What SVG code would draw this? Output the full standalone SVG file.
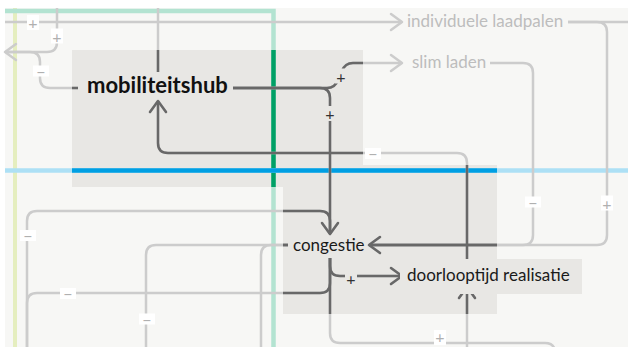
<svg xmlns="http://www.w3.org/2000/svg" width="628" height="347" viewBox="0 0 628 347">
<style>
.bg{fill:#f7f7f5}
.box{fill:#e8e7e4}
.lbl{font-family:Lato,"Noto Sans",sans-serif;font-size:17px;fill:#1a1a1a}
.lbl-light{fill:#bdbdbd}
.hub{font-weight:700;font-size:22px;fill:#111}
.sbg{fill:#ffffff}
.sbg-d{fill:#e8e7e4}
.s{font-family:Lato,"Noto Sans",sans-serif;font-size:16px;text-anchor:middle;dominant-baseline:central;fill:#b0b0b0}
.s-d{fill:#333333}
</style>
<defs>
<marker id="aL" markerUnits="userSpaceOnUse" markerWidth="16" markerHeight="22" viewBox="-13 -11 16 22" refX="0" refY="0" orient="auto"><path d="M-11,-8 L0,0 L-11,8" fill="none" stroke="#cccccc" stroke-width="2.5" stroke-linejoin="round" stroke-linecap="round"/></marker>
<marker id="aD" markerUnits="userSpaceOnUse" markerWidth="16" markerHeight="22" viewBox="-13 -11 16 22" refX="0" refY="0" orient="auto"><path d="M-11,-8 L0,0 L-11,8" fill="none" stroke="#686868" stroke-width="2.5" stroke-linejoin="round" stroke-linecap="round"/></marker>
<clipPath id="focus"><rect x="72" y="50" width="291" height="137"/><rect x="283" y="165" width="214" height="149"/><rect x="400" y="259" width="182" height="35"/></clipPath>
</defs>
<rect class="bg" x="5" y="8" width="623" height="339"/>
<g id="focus-areas">
<rect class="box" x="72" y="50" width="291" height="137"/>
<rect class="box" x="283" y="165" width="214" height="149"/>
</g>
<g id="lanes" fill="none">
<path d="M15 8V347" stroke="#e5eebf" stroke-width="4"/>
<path d="M5 11H273.5V347" stroke="#b3e3d1" stroke-width="4.5"/>
<path d="M273.5 50V187" stroke="#00a066" stroke-width="4.5"/>
<path d="M5 170.5H628" stroke="#ade0f5" stroke-width="4.5"/>
<path d="M72 170.5H497" stroke="#009fe3" stroke-width="4.5"/>
</g>
<g id="connectors" stroke="#cccccc">
<g id="conn-plain" fill="none" stroke-width="2.5" stroke-linejoin="round">
<path d="M158 8V72"/>
<path d="M57 8V42Q57 52 47 52H6"/>
<path d="M568 22H628"/>
<path d="M490 63H523Q533 63 533 73V235Q533 245 523 245H370"/>
<path d="M27 347V221Q27 211 37 211H320Q330 211 330 221V234"/>
<path d="M288 245H156Q146 245 146 255V347"/>
<path d="M288 245H271Q261 245 261 255V347"/>
<path d="M330 258V283Q330 293 320 293H37Q27 293 27 303V347"/>
<path d="M330 258V333Q330 343 340 343H545Q555 343 555 353"/>
</g>
<g marker-end="url(#aL)">
<g id="conn-arrows" fill="none" stroke-width="2.5" stroke-linejoin="round">
<path d="M5 22H402"/>
<path d="M78 88H50Q40 88 40 78V62Q40 52 30 52H5"/>
<path d="M233 88H327Q335 88 338 80L342 71Q345 63 353 63H402"/>
<path d="M233 88H320Q330 88 330 98V234"/>
<path d="M467 262V163Q467 153 457 153H168Q158 153 158 143V101"/>
<path d="M568 22H597Q607 22 607 32V235Q607 245 597 245H369"/>
<path d="M330 258V266Q330 276 340 276H402"/>
<path d="M467 347V287"/>
</g>
</g>
</g>
<g id="connectors-focus" clip-path="url(#focus)" stroke="#686868">
<use href="#conn-plain"/>
<use href="#conn-arrows" marker-end="url(#aD)"/>
</g>
<g id="signs">
<rect class="sbg" x="27" y="15" width="12" height="15"/><text class="s" x="33" y="22">+</text>
<rect class="sbg" x="51" y="28.5" width="12" height="15"/><text class="s" x="57" y="36">+</text>
<rect class="sbg" x="33" y="65.5" width="16" height="11"/><text class="s" x="41" y="71">−</text>
<rect class="sbg" x="365" y="148" width="16" height="11"/><text class="s" x="373" y="153.5">−</text>
<rect class="sbg" x="525" y="196.5" width="16" height="11"/><text class="s" x="533" y="202">−</text>
<rect class="sbg" x="601" y="195.5" width="12" height="15"/><text class="s" x="607" y="203">+</text>
<rect class="sbg" x="20" y="230" width="16" height="11"/><text class="s" x="28" y="235.5">−</text>
<rect class="sbg" x="60" y="288" width="16" height="11"/><text class="s" x="68" y="293.5">−</text>
<rect class="sbg" x="139" y="313.5" width="16" height="11"/><text class="s" x="147" y="319">−</text>
<rect class="sbg" x="434" y="330" width="12" height="15"/><text class="s" x="440" y="336.5">+</text>
<rect class="sbg-d" x="335" y="68.5" width="12" height="15"/><text class="s s-d" x="341" y="76">+</text>
<rect class="sbg-d" x="324" y="106" width="12" height="15"/><text class="s s-d" x="330" y="113.5">+</text>
<rect class="sbg-d" x="345" y="270.5" width="12" height="15"/><text class="s s-d" x="351" y="278">+</text>
</g>
<g id="node-mobiliteitshub"><text class="lbl hub" x="87" y="93">mobiliteitshub</text></g>
<g id="node-congestie"><text class="lbl" x="293" y="251">congestie</text></g>
<g id="node-doorlooptijd-realisatie"><rect class="box" x="400" y="259" width="182" height="35"/><text class="lbl" x="407" y="281">doorlooptijd realisatie</text></g>
<g id="node-individuele-laadpalen"><text class="lbl lbl-light" x="407" y="27">individuele laadpalen</text></g>
<g id="node-slim-laden"><text class="lbl lbl-light" x="412" y="68">slim laden</text></g>
</svg>
